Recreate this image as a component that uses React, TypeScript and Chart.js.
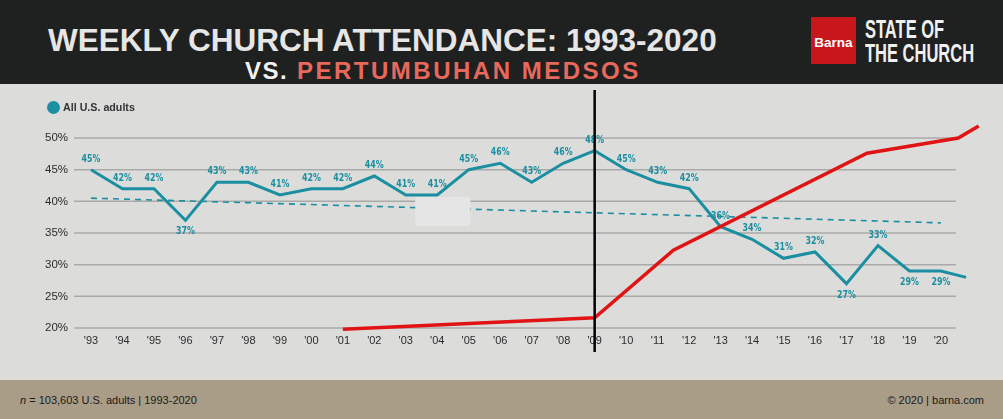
import React, { useEffect, useRef } from "react";
import { Chart, registerables } from "chart.js";

Chart.register(...registerables);

// ---- data ----
const years = [
  1993, 1994, 1995, 1996, 1997, 1998, 1999, 2000, 2001, 2002, 2003, 2004, 2005, 2006,
  2007, 2008, 2009, 2010, 2011, 2012, 2013, 2014, 2015, 2016, 2017, 2018, 2019, 2020,
];
const attendance = [
  45, 42, 42, 37, 43, 43, 41, 42, 42, 44, 41, 41, 45, 46, 43, 46, 48, 45, 43, 42, 36, 34, 31,
  32, 27, 33, 29, 29,
];
const attendanceTailYear = 2020.8;
const attendanceTailValue = 28;
const trendYears = [1993, 2020];
const trendValues = [40.5, 36.6];
const socialYears = [2001, 2009, 2011.5, 2017.65, 2020.55, 2021.2];
const socialValues = [19.8, 21.6, 32.3, 47.6, 50, 51.9];
const labelBelowYears = [1996, 2017, 2019, 2020];
const yTicks = [20, 25, 30, 35, 40, 45, 50];
const markerYear = 2009;
const maskYears = [2003.3, 2005.05];
const maskValues = [36.1, 40.7];
const gridEndYear = 2020.476;

const TEAL = "#1b8fa1";
const RED = "#e01414";
const GRID = "#a9a9a9";

const tickLabel = (v: number) => "'" + String(v).slice(2);

function ChurchChart() {
  const ref = useRef<HTMLCanvasElement | null>(null);
  useEffect(() => {
    if (!ref.current) return;
    const teal = years.map((y, i) => ({ x: y, y: attendance[i] }));
    teal.push({ x: attendanceTailYear, y: attendanceTailValue });
    const trend = trendYears.map((y, i) => ({ x: y, y: trendValues[i] }));
    const social = socialYears.map((y, i) => ({ x: y, y: socialValues[i] }));

    const overlay = {
      id: "overlay",
      beforeDatasetsDraw(chart: any) {
        const { ctx, scales, chartArea } = chart;
        const xEnd = scales.x.getPixelForValue(gridEndYear);
        ctx.save();
        ctx.strokeStyle = GRID;
        ctx.lineWidth = 1.5;
        yTicks.forEach((v) => {
          const y = scales.y.getPixelForValue(v);
          ctx.beginPath();
          ctx.moveTo(chartArea.left, y);
          ctx.lineTo(xEnd, y);
          ctx.stroke();
        });
        ctx.restore();
      },
      afterDatasetDraw(chart: any, args: any) {
        if (args.index !== 2) return;
        const { ctx, scales } = chart;
        const x0 = scales.x.getPixelForValue(maskYears[0]);
        const x1 = scales.x.getPixelForValue(maskYears[1]);
        const y0 = scales.y.getPixelForValue(maskValues[1]);
        const y1 = scales.y.getPixelForValue(maskValues[0]);
        ctx.save();
        ctx.fillStyle = "#e4e5e4";
        ctx.fillRect(x0, y0, x1 - x0, y1 - y0);
        ctx.restore();
      },
      afterDatasetsDraw(chart: any) {
        const { ctx, scales, chartArea } = chart;
        const meta = chart.getDatasetMeta(1);
        ctx.save();
        ctx.fillStyle = TEAL;
        ctx.font = "bold 11px 'DejaVu Sans Condensed', 'DejaVu Sans', sans-serif";
        ctx.textAlign = "center";
        ctx.textBaseline = "middle";
        years.forEach((yr, i) => {
          const pt = meta.data[i];
          if (!pt) return;
          const below = labelBelowYears.includes(yr);
          const ly = pt.y + (below ? 11 : -11);
          ctx.save();
          ctx.translate(pt.x, ly);
          ctx.scale(0.8, 1);
          ctx.fillText(attendance[i] + "%", 0, 0);
          ctx.restore();
        });
        ctx.restore();
        // vertical marker
        const mx = scales.x.getPixelForValue(markerYear);
        ctx.save();
        ctx.strokeStyle = "#000";
        ctx.lineWidth = 2.5;
        ctx.beginPath();
        ctx.moveTo(mx, chartArea.top - 48);
        ctx.lineTo(mx, chartArea.bottom + 24);
        ctx.stroke();
        ctx.restore();
      },
    };

    const chart = new Chart(ref.current, {
      type: "line",
      data: {
        datasets: [
          {
            label: "Media sosial",
            data: social,
            borderColor: RED,
            borderWidth: 3.5,
            pointRadius: 0,
            clip: false as any,
            order: 0,
          },
          {
            label: "All U.S. adults",
            data: teal,
            borderColor: TEAL,
            borderWidth: 3,
            pointRadius: 0,
            clip: false as any,
            order: 1,
          },
          {
            label: "Trend",
            data: trend,
            borderColor: TEAL,
            borderWidth: 1.6,
            borderDash: [6, 5],
            pointRadius: 0,
            order: 2,
          },
        ],
      },
      options: {
        animation: false,
        responsive: true,
        maintainAspectRatio: false,
        layout: { padding: { top: 54, right: 11.7, left: 0, bottom: 0 } },
        plugins: { legend: { display: false }, tooltip: { enabled: false }, title: { display: false } },
        scales: {
          x: {
            type: "linear",
            min: 1992.46,
            max: 2021.6,
            afterBuildTicks: (scale: any) => {
              scale.ticks = years.map((v) => ({ value: v }));
            },
            afterFit: (scale: any) => {
              scale.height = 52;
            },
            ticks: {
              callback: (v: any) => tickLabel(Number(v)),
              color: "#2b2b2b",
              font: { family: "'Liberation Sans', Arial, sans-serif", size: 11 },
              padding: 6,
              autoSkip: false,
              maxRotation: 0,
            },
            grid: { display: false, drawTicks: false },
            border: { display: false },
          },
          y: {
            min: 20,
            max: 50,
            afterBuildTicks: (scale: any) => {
              scale.ticks = yTicks.map((v) => ({ value: v }));
            },
            afterFit: (scale: any) => {
              scale.width = 74;
            },
            ticks: {
              callback: (v: any) => v + "%",
              color: "#2b2b2b",
              font: { family: "'Liberation Sans', Arial, sans-serif", size: 11.5 },
              padding: 6,
            },
            grid: { display: false, drawTicks: false },
            border: { display: false },
          },
        },
      },
      plugins: [overlay],
    } as any);
    return () => chart.destroy();
  }, []);
  return <canvas ref={ref} />;
}

export default function App() {
  useEffect(() => {
    document.body.style.margin = "0";
  }, []);
  const sans = "'Liberation Sans', Arial, Helvetica, sans-serif";
  return (
    <div
      style={{
        position: "absolute",
        left: 0,
        top: 0,
        width: 1003,
        height: 419,
        background: "#1f2020",
        overflow: "hidden",
        fontFamily: sans,
      }}
    >
      {/* Title */}
      <div
        style={{
          position: "absolute",
          left: 48,
          top: 25,
          fontSize: 31.5,
          lineHeight: "31.5px",
          fontWeight: "bold",
          color: "#e6e6e6",
          whiteSpace: "nowrap",
        }}
      >
        WEEKLY CHURCH ATTENDANCE: 1993-2020
      </div>
      <div
        style={{
          position: "absolute",
          left: 245,
          top: 59,
          fontSize: 24,
          lineHeight: "24px",
          fontWeight: "bold",
          color: "#f2f2f2",
          letterSpacing: 1.5,
          whiteSpace: "nowrap",
        }}
      >
        VS.
      </div>
      <div
        style={{
          position: "absolute",
          left: 297,
          top: 59,
          fontSize: 24,
          lineHeight: "24px",
          fontWeight: "bold",
          color: "#e8695c",
          letterSpacing: 2.5,
          whiteSpace: "nowrap",
        }}
      >
        PERTUMBUHAN MEDSOS
      </div>
      {/* Logo */}
      <div
        style={{
          position: "absolute",
          left: 811,
          top: 17,
          width: 45,
          height: 47,
          background: "#c8161d",
          color: "#fff",
          fontWeight: "bold",
          fontSize: 13.5,
          display: "flex",
          alignItems: "center",
          justifyContent: "center",
          paddingTop: 4,
          boxSizing: "border-box",
        }}
      >
        Barna
      </div>
      <div
        style={{
          position: "absolute",
          left: 865,
          top: 17,
          fontSize: 25,
          lineHeight: "25px",
          fontWeight: "bold",
          color: "#f0f0f0",
          whiteSpace: "nowrap",
          transform: "scaleX(0.66)",
          transformOrigin: "left top",
        }}
      >
        STATE OF
      </div>
      <div
        style={{
          position: "absolute",
          left: 865,
          top: 41,
          fontSize: 25,
          lineHeight: "25px",
          fontWeight: "bold",
          color: "#f0f0f0",
          whiteSpace: "nowrap",
          transform: "scaleX(0.66)",
          transformOrigin: "left top",
        }}
      >
        THE CHURCH
      </div>
      {/* Chart panel */}
      <div
        style={{
          position: "absolute",
          left: 0,
          top: 84,
          width: 1003,
          height: 296,
          background: "#dcdddb",
        }}
      >
        <div style={{ position: "absolute", left: 0, top: 0, width: 1003, height: 296 }}>
          <ChurchChart />
        </div>
        <div
          style={{
            position: "absolute",
            left: 46.5,
            top: 16.5,
            width: 13,
            height: 13,
            borderRadius: "50%",
            background: TEAL,
          }}
        />
        <div
          style={{
            position: "absolute",
            left: 63,
            top: 17,
            fontSize: 10.7,
            lineHeight: "13px",
            fontWeight: "bold",
            color: "#333",
            whiteSpace: "nowrap",
          }}
        >
          All U.S. adults
        </div>
      </div>
      {/* Footer */}
      <div
        style={{
          position: "absolute",
          left: 0,
          top: 380,
          width: 1003,
          height: 39,
          background: "#a99d88",
          display: "flex",
          alignItems: "center",
          justifyContent: "space-between",
          padding: "0 19px 0 20px",
          boxSizing: "border-box",
          fontSize: 11,
          color: "#1a1a1a",
        }}
      >
        <span>
          <i>n</i> = 103,603 U.S. adults | 1993-2020
        </span>
        <span>© 2020 | barna.com</span>
      </div>
    </div>
  );
}
